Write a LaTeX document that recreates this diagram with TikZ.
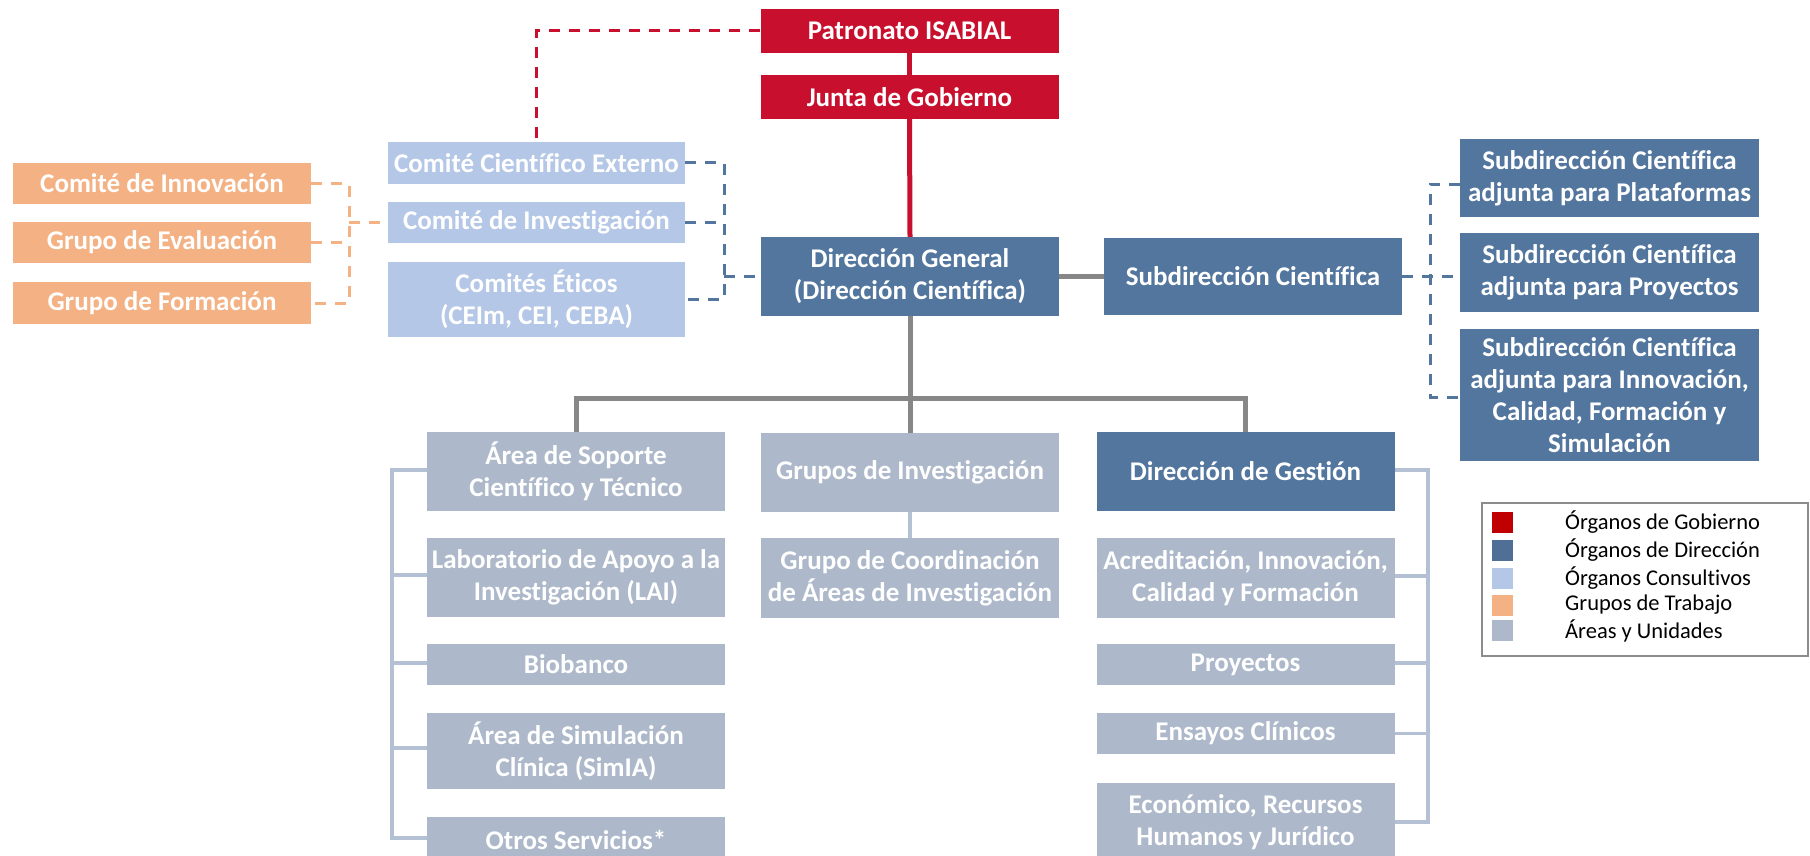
\documentclass[tikz,border=0pt]{standalone}
\usepackage{fontspec}
\setmainfont{Carlito}[RawFeature={-liga;-clig;-dlig}]
\definecolor{gobred}{HTML}{C8102E}
\definecolor{dirblue}{HTML}{52769E}
\definecolor{consblue}{HTML}{B4C7E7}
\definecolor{worange}{HTML}{F4B183}
\definecolor{areagray}{HTML}{ADB9CA}
\definecolor{busgray}{HTML}{878787}
\definecolor{brackgray}{HTML}{B4C0D3}
\definecolor{legred}{HTML}{C00000}
\definecolor{legblue}{HTML}{4F6F97}
\tikzset{
  box/.style={rectangle, inner sep=0pt, align=center, text=white,
    font=\bfseries\fontsize{27}{32}\selectfont, minimum width=298pt},
  redline/.style={draw=gobred, line width=5pt},
  reddash/.style={draw=gobred, line width=3pt, dash pattern=on 11pt off 9pt},
  bluedash/.style={draw=dirblue, line width=3pt, dash pattern=on 11pt off 9pt},
  orgdash/.style={draw=worange, line width=3pt, dash pattern=on 11pt off 9pt},
  busline/.style={draw=busgray, line width=5pt},
  brack/.style={draw=brackgray, line width=3.5pt},
  legtext/.style={anchor=west, inner sep=0pt, font=\fontsize{22.5}{27}\selectfont, text=black},
  swatch/.style={rectangle, inner sep=0pt, minimum width=21pt, minimum height=21pt},
}
\begin{document}
\begin{tikzpicture}[x=1pt, y=-1pt]
\useasboundingbox (0,0) rectangle (1810,856);
% governance
\node[box, fill=gobred, minimum height=44pt] (pat) at (909.5,31) {Patronato ISABIAL};
\node[box, fill=gobred, minimum height=44pt] (junta) at (909.5,97) {Junta de Gobierno};
\node[box, fill=dirblue, minimum height=79pt] (dg) at (910,276.5) {Dirección General\\(Dirección Científica)};
% consultive
\node[box, fill=consblue, minimum width=297pt, minimum height=42pt] (cce) at (536.5,163) {Comité Científico Externo};
\node[box, fill=consblue, minimum width=297pt, minimum height=41pt] (ci) at (536.5,222.5) {Comité de Investigación};
\node[box, fill=consblue, minimum width=297pt, minimum height=75pt] (ce) at (536.5,299.5) {Comités Éticos\\(CEIm, CEI, CEBA)};
% working groups
\node[box, fill=worange, minimum height=41pt] (cinn) at (162,183.5) {Comité de Innovación};
\node[box, fill=worange, minimum height=41pt] (geval) at (162,242.5) {Grupo de Evaluación};
\node[box, fill=worange, minimum height=42pt] (gform) at (162,303) {Grupo de Formación};
% subdirections
\node[box, fill=dirblue, minimum height=77pt] (sc) at (1253,276.5) {Subdirección Científica};
\node[box, fill=dirblue, minimum width=299pt, minimum height=78pt] (sp) at (1609.5,178) {Subdirección Científica\\adjunta para Plataformas};
\node[box, fill=dirblue, minimum width=299pt, minimum height=79pt] (spr) at (1609.5,272.5) {Subdirección Científica\\adjunta para Proyectos};
\node[box, fill=dirblue, minimum width=299pt, minimum height=132pt] (sinn) at (1609.5,395) {Subdirección Científica\\adjunta para Innovación,\\Calidad, Formación y\\Simulación};
% lower areas
\node[box, fill=areagray, minimum height=79pt] (asct) at (576,471.5) {Área de Soporte\\Científico y Técnico};
\node[box, fill=areagray, minimum height=79pt] (gi) at (910,472.5) {Grupos de Investigación};
\node[box, fill=dirblue, minimum height=79pt] (dges) at (1245.5,471.5) {Dirección de Gestión};
\node[box, fill=areagray, minimum height=79pt] (lai) at (576,577.5) {Laboratorio de Apoyo a la\\Investigación (LAI)};
\node[box, fill=areagray, minimum height=80pt] (gcai) at (910,578) {Grupo de Coordinación\\de Áreas de Investigación};
\node[box, fill=areagray, minimum height=80pt] (acr) at (1245.5,578) {Acreditación, Innovación,\\Calidad y Formación};
\node[box, fill=areagray, minimum height=41pt] (bio) at (576,664.5) {Biobanco};
\node[box, fill=areagray, minimum height=41pt] (proy) at (1245.5,664.5) {Proyectos};
\node[box, fill=areagray, minimum height=76pt] (sim) at (576,751) {Área de Simulación\\Clínica (SimIA)};
\node[box, fill=areagray, minimum height=41pt] (ens) at (1245.5,733.5) {Ensayos Clínicos};
\node[box, fill=areagray, minimum height=45pt] (otros) at (576,839.5) {Otros Servicios*};
\node[box, fill=areagray, minimum height=78pt] (eco) at (1245.5,822) {Económico, Recursos\\Humanos y Jurídico};
% helper coordinates
\coordinate (bx) at (724,0);
\coordinate (ox) at (349,0);
\coordinate (sx) at (1430,0);
\coordinate (bus) at (0,398);
\coordinate (lx) at (392,0);
\coordinate (rbx) at (1428,0);
% red lines
\draw[redline] (pat.south) -- (junta.north);
\draw[redline] (junta.south) -- (dg.north);
\draw[reddash] (pat.west) -| (cce.north);
% blue dashed to consultive
\draw[bluedash] (cce.east) -- (cce.east -| bx) -- (ce.east -| bx) -- (ce.east);
\draw[bluedash] (ci.east) -- (ci.east -| bx);
\draw[bluedash] (bx |- dg.west) -- (dg.west);
% orange dashed
\draw[orgdash] (cinn.east) -- (cinn.east -| ox) -- (gform.east -| ox) -- (gform.east);
\draw[orgdash] (geval.east) -- (geval.east -| ox);
\draw[orgdash] (ox |- ci.west) -- (ci.west);
% subdirection
\draw[busline] (dg.east) -- (sc.west);
\draw[bluedash] ([yshift=-6pt]sp.west) -- ([yshift=-6pt]sp.west -| sx) -- ([yshift=-2pt]sinn.west -| sx) -- ([yshift=-2pt]sinn.west);
\draw[bluedash] (sc.east) -- (sc.east -| spr.west);
% bus
\draw[busline] (dg.south) -- (gi.north);
\draw[busline] (asct.north) -- (asct.north |- bus) -- (dges.north |- bus) -- (dges.north);
\draw[brack] (gi.south) -- (gcai.north);
% left bracket
\draw[brack] ([yshift=1.5pt]asct.west) -- ([yshift=1.5pt]asct.west -| lx) -- ([yshift=1.5pt]otros.west -| lx) -- ([yshift=1.5pt]otros.west);
\draw[brack] ([yshift=2.5pt]lai.west) -- ([yshift=2.5pt]lai.west -| lx);
\draw[brack] ([yshift=1.5pt]bio.west) -- ([yshift=1.5pt]bio.west -| lx);
\draw[brack] ([yshift=3pt]sim.west) -- ([yshift=3pt]sim.west -| lx);
% right bracket
\draw[brack] ([yshift=1.5pt]dges.east) -- ([yshift=1.5pt]dges.east -| rbx) -- (eco.east -| rbx) -- (eco.east);
\draw[brack] ([yshift=2pt]acr.east) -- ([yshift=2pt]acr.east -| rbx);
\draw[brack] ([yshift=1.5pt]proy.east) -- ([yshift=1.5pt]proy.east -| rbx);
\draw[brack] (ens.east) -- (ens.east -| rbx);
% legend
\node[draw=gray!90, line width=1.5pt, rectangle, inner sep=0pt, minimum width=326pt, minimum height=153pt] (leg) at (1645,579.5) {};
\node[swatch, fill=legred] (s1) at (1502.5,522.5) {};
\node[swatch, fill=legblue] (s2) at (1502.5,550) {};
\node[swatch, fill=consblue] (s3) at (1502.5,578) {};
\node[swatch, fill=worange] (s4) at (1502.5,605) {};
\node[swatch, fill=areagray] (s5) at (1502.5,630.5) {};
\node[legtext] (t1) at (1565,522.5) {Órganos de Gobierno};
\node[legtext] (t2) at (1565,550) {Órganos de Dirección};
\node[legtext] (t3) at (1565,578) {Órganos Consultivos};
\node[legtext] (t4) at (1565,605) {Grupos de Trabajo};
\node[legtext] (t5) at (1565,630.5) {Áreas y Unidades};
\end{tikzpicture}
\end{document}
